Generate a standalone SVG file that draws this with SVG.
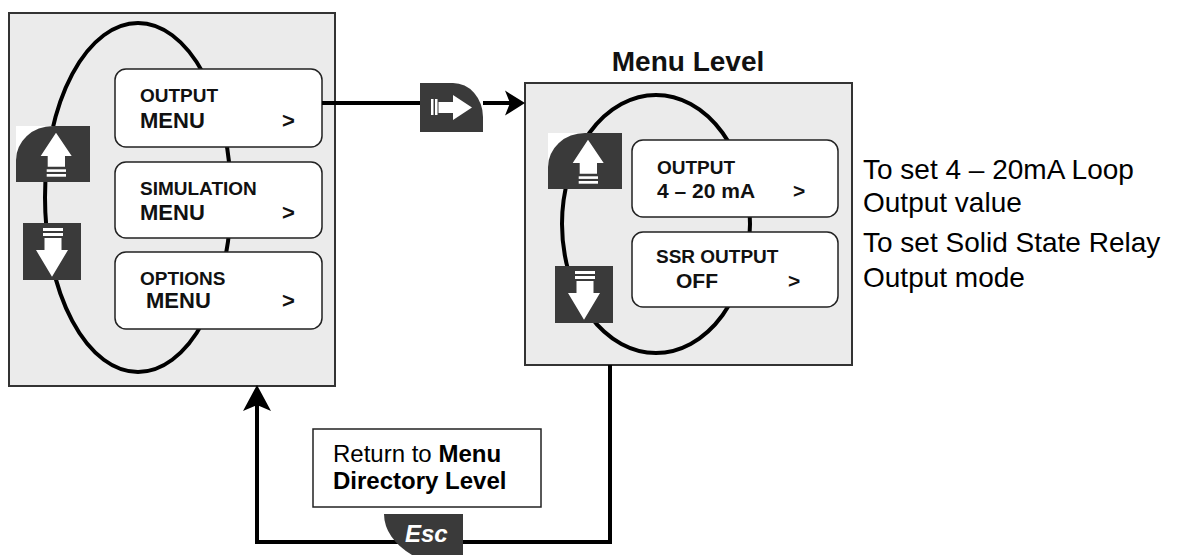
<svg xmlns="http://www.w3.org/2000/svg" width="1180" height="555" viewBox="0 0 1180 555">
<style>
.panel{fill:#ebebeb;stroke:#333;stroke-width:2}
.loop{fill:none;stroke:#000;stroke-width:4}
.box{fill:#fff;stroke:#222;stroke-width:1.5}
.icon{fill:#3a3a3a}
.glyph{fill:#fff}
.conn{fill:none;stroke:#000;stroke-width:4}
.t1{font-family:"Liberation Sans",Arial,sans-serif;font-weight:bold;font-size:19px;fill:#111}
.t2{font-family:"Liberation Sans",Arial,sans-serif;font-weight:bold;font-size:22px;fill:#111}
.t3{font-family:"Liberation Sans",Arial,sans-serif;font-weight:bold;font-size:21px;fill:#111}
.note{font-family:"Liberation Sans",Arial,sans-serif;font-size:28px;fill:#000}
.ret{font-family:"Liberation Sans",Arial,sans-serif;font-size:24px;fill:#000}
.title{font-family:"Liberation Sans",Arial,sans-serif;font-weight:bold;font-size:28px;fill:#111}
.esc{font-family:"Liberation Sans",Arial,sans-serif;font-weight:bold;font-style:italic;font-size:24px;fill:#fff}
</style>
<defs>
<marker id="arrR" markerUnits="userSpaceOnUse" markerWidth="30" markerHeight="30" refX="10" refY="0" viewBox="0 -15 30 30" orient="auto" overflow="visible">
<path d="M0,-12.5 L20,0 L0,12.5 L5,0 Z" fill="#000"/>
</marker>
<marker id="arrU" markerUnits="userSpaceOnUse" markerWidth="30" markerHeight="32" refX="12" refY="0" viewBox="0 -16 30 32" orient="auto" overflow="visible">
<path d="M0,-14 L26,0 L0,14 L6,0 Z" fill="#000"/>
</marker>
<g id="upIcon">
<rect x="0" y="0" width="37" height="34" fill="#fff"/>
<path class="icon" d="M0,56 V34 A37,34 0 0 1 37,0 H74 V56 Z"/>
<path class="glyph" d="M40,6.7 L55.7,30 H49 V40.7 H31.7 V30 H24.7 Z"/>
<rect class="glyph" x="30.7" y="43.3" width="19.3" height="2.6"/>
<rect class="glyph" x="30.7" y="48" width="19.3" height="2.7"/>
</g>
<g id="downIcon">
<rect class="icon" x="0" y="0" width="58" height="57"/>
<rect class="glyph" x="20" y="5" width="20" height="3"/>
<rect class="glyph" x="20" y="10" width="20" height="3"/>
<path class="glyph" d="M21.5,15 H38.5 V27 H45 L29,53.7 L13,27 H21.5 Z"/>
</g>
</defs>

<g id="directory-panel">
<rect class="panel" x="9" y="13" width="326" height="373"/>
<ellipse class="loop" cx="138" cy="197.5" rx="93" ry="174.5"/>
<use href="#upIcon" x="16" y="126"/>
<use href="#downIcon" x="23" y="223"/>
</g>

<g id="node-output-menu">
<rect class="box" x="115" y="69" width="207" height="78" rx="11"/>
<text class="t1" x="140" y="102">OUTPUT</text>
<text class="t2" x="140" y="128">MENU</text>
<text class="t2" x="282" y="128">&gt;</text>
</g>
<g id="node-simulation-menu">
<rect class="box" x="115" y="162" width="207" height="76" rx="11"/>
<text class="t1" x="140" y="195">SIMULATION</text>
<text class="t2" x="140" y="220">MENU</text>
<text class="t2" x="282" y="220">&gt;</text>
</g>
<g id="node-options-menu">
<rect class="box" x="115" y="252" width="207" height="77" rx="11"/>
<text class="t1" x="140" y="285">OPTIONS</text>
<text class="t2" x="146" y="308">MENU</text>
<text class="t2" x="282" y="308">&gt;</text>
</g>

<g id="menu-level-panel">
<text class="title" x="688" y="71" text-anchor="middle">Menu Level</text>
<rect class="panel" x="525" y="83" width="327" height="282"/>
<ellipse class="loop" cx="656" cy="224" rx="94" ry="129"/>
<use href="#upIcon" x="548" y="133"/>
<use href="#downIcon" x="555" y="266"/>
</g>

<g id="node-output-420">
<rect class="box" x="632" y="140" width="206" height="77" rx="11"/>
<text class="t1" x="657" y="174">OUTPUT</text>
<text class="t3" x="657" y="198">4 – 20 mA</text>
<text class="t3" x="793" y="198">&gt;</text>
</g>
<g id="node-ssr-output">
<rect class="box" x="632" y="232" width="206" height="75" rx="11"/>
<text class="t1" x="656" y="263">SSR OUTPUT</text>
<text class="t3" x="676" y="288">OFF</text>
<text class="t3" x="788" y="288">&gt;</text>
</g>

<g id="notes">
<text class="note" x="863" y="179">To set 4 – 20mA Loop</text>
<text class="note" x="863" y="212">Output value</text>
<text class="note" x="863" y="252">To set Solid State Relay</text>
<text class="note" x="863" y="287">Output mode</text>
</g>

<g id="connectors">
<line class="conn" x1="322" y1="103" x2="420" y2="103"/>
<line class="conn" x1="483" y1="103" x2="515" y2="103" marker-end="url(#arrR)"/>
<path class="conn" d="M610,365 V542 H257 V399" marker-end="url(#arrU)"/>
</g>

<g id="enter-key">
<path class="icon" d="M420,83 H453 A30,34 0 0 1 483,117 V132 H420 Z"/>
<rect class="glyph" x="431" y="99" width="2.5" height="16"/>
<rect class="glyph" x="435" y="99" width="2.5" height="16"/>
<path class="glyph" d="M438.5,102 H453 V95 L472,107.5 L453,120 V113 H438.5 Z"/>
</g>

<g id="return-note">
<rect x="313" y="429" width="228" height="78" fill="#fff" stroke="#222" stroke-width="1.5"/>
<text class="ret" x="333" y="462">Return to <tspan font-weight="bold">Menu</tspan></text>
<text class="ret" x="333" y="489" font-weight="bold">Directory Level</text>
</g>

<g id="esc-key">
<path class="icon" d="M384,514 H463 V555 H412 A79,54 0 0 1 384,514 Z"/>
<text class="esc" x="405" y="542">Esc</text>
</g>
</svg>
